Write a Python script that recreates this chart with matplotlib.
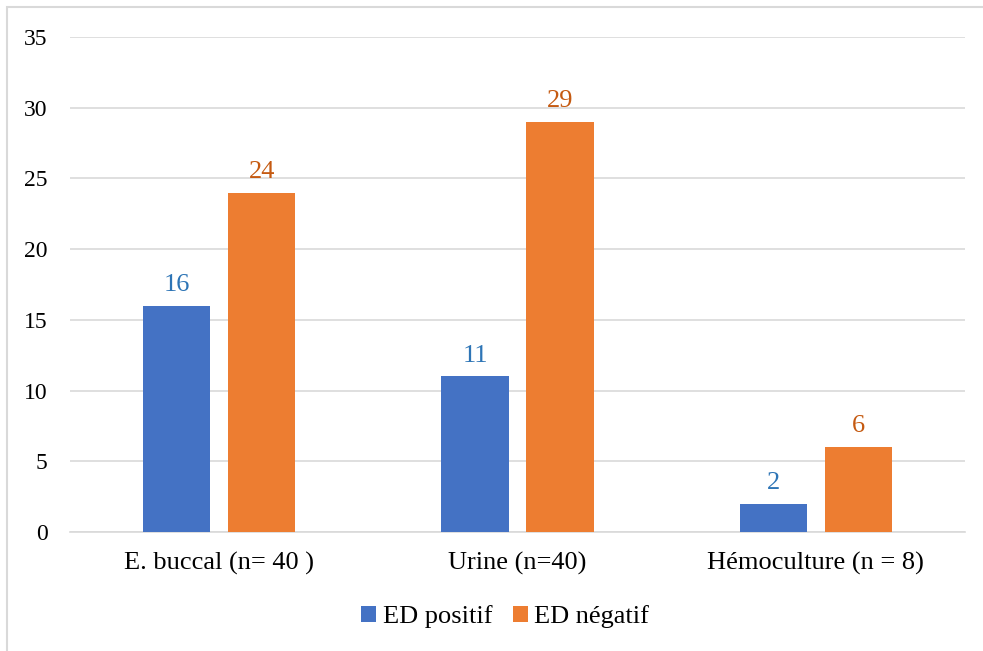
import numpy as np
import matplotlib.pyplot as plt
from matplotlib.patches import Rectangle

categories = ["E. buccal (n= 40 )", "Urine (n=40)", "Hémoculture (n = 8)"]
ed_positif = [16, 11, 2]
ed_negatif = [24, 29, 6]

plt.rcParams['font.family'] = ['Liberation Serif', 'DejaVu Serif']

fig = plt.figure(figsize=(9.83, 6.51), dpi=100)
ax = fig.add_axes([0.0712, 0.1828, 0.9105, 0.7604])

x = np.arange(len(categories))
w = 0.225
gap = 0.06
b1 = ax.bar(x - (w + gap) / 2, ed_positif, w, color='#4472C4', label='ED positif', zorder=3)
b2 = ax.bar(x + (w + gap) / 2, ed_negatif, w, color='#ED7D31', label='ED négatif', zorder=3)

for bars, vals, col in [(b1, ed_positif, '#2E75B6'), (b2, ed_negatif, '#C55A11')]:
    for r, v in zip(bars, vals):
        ax.annotate(str(v), (r.get_x() + r.get_width() / 2, v), xytext=(0, 7),
                    textcoords='offset points', ha='center', va='bottom',
                    fontsize=19, color=col)

ax.set_xlim(-0.5, 2.5)
ax.set_ylim(0, 35)
ax.set_yticks(range(0, 36, 5))
ax.yaxis.grid(True, color='#D9D9D9', linewidth=1.2, zorder=0)
ax.set_axisbelow(True)
for s in ['top', 'right', 'left']:
    ax.spines[s].set_visible(False)
ax.spines['bottom'].set_color('#D9D9D9')
ax.spines['bottom'].set_linewidth(1.2)
ax.tick_params(axis='both', length=0, labelsize=17, colors='#000000')
ax.tick_params(axis='y', pad=16)
ax.tick_params(axis='x', pad=14)
ax.set_xticks(x)
ax.set_xticklabels(categories, fontsize=19)

fig.legend(loc='center', bbox_to_anchor=(0.514, 1 - 617 / 651), ncol=2, frameon=False,
           fontsize=19, handlelength=0.55, handleheight=0.55, handletextpad=0.25,
           columnspacing=0.8)

fig.patches.append(Rectangle((7 / 983, -0.1), 1.2, 1.1 - 7 / 651,
                             transform=fig.transFigure, fill=False,
                             edgecolor='#D9D9D9', linewidth=1.5))

fig.savefig('out.png', dpi=100)
